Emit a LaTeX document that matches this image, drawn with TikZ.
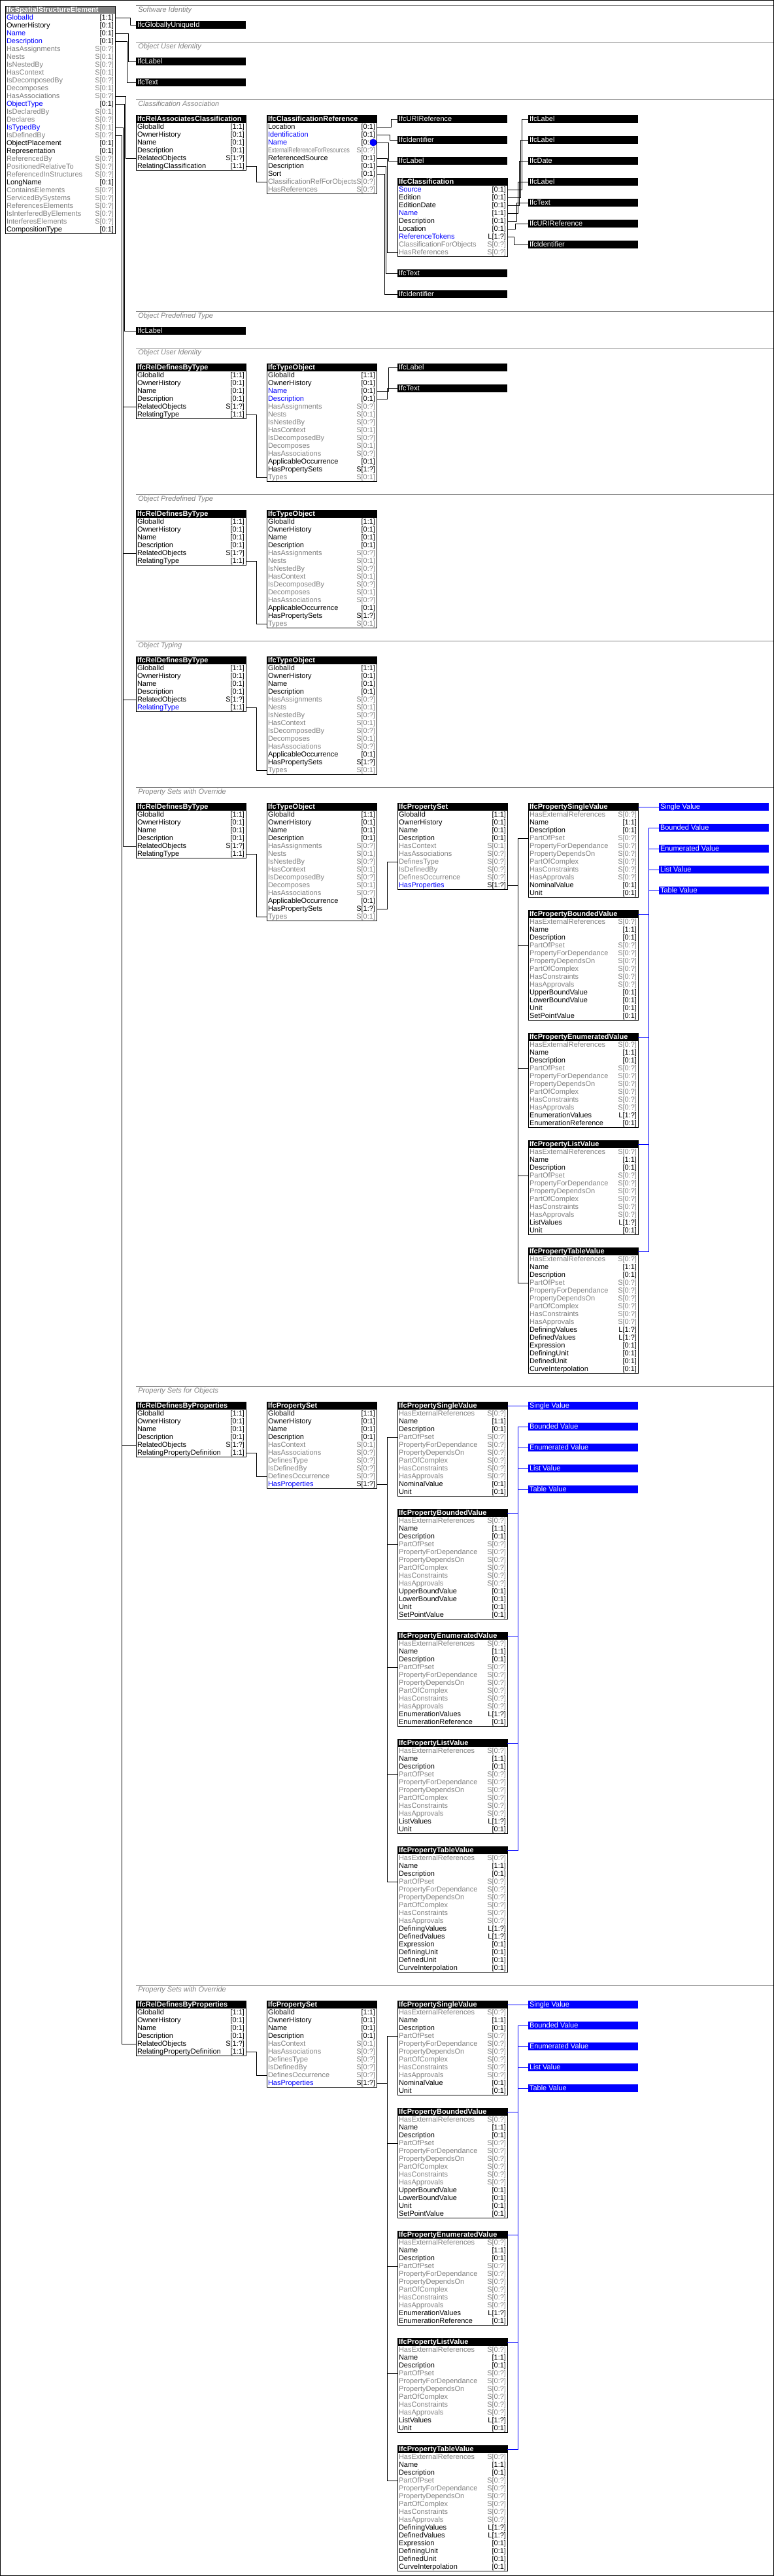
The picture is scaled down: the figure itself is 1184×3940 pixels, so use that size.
\documentclass[tikz,border=0pt]{standalone}
\usepackage{fontspec}
\setmainfont{Liberation Sans}
\usetikzlibrary{positioning}

\definecolor{nmn}{RGB}{0,0,0}
\definecolor{nmb}{RGB}{0,0,255}
\definecolor{nmt}{RGB}{0,0,255}
\definecolor{nmg}{RGB}{128,128,128}
\definecolor{cdn}{RGB}{0,0,0}
\definecolor{cdb}{RGB}{0,0,0}
\definecolor{cdt}{RGB}{128,128,128}
\definecolor{cdg}{RGB}{128,128,128}
\definecolor{secgray}{RGB}{128,128,128}
\definecolor{hdgray}{RGB}{128,128,128}
\definecolor{vblue}{RGB}{0,0,255}

\tikzset{
	base/.style={inner ysep=0pt, inner xsep=1.5pt, outer sep=0pt, minimum height=9pt,
		text height=7pt, text depth=1.5pt, font=\fontsize{8.25}{9}\selectfont},
	hdr/.style={base, anchor=north west, fill=black, text=white, font=\fontsize{8.25}{9}\selectfont\bfseries},
	hdrgray/.style={hdr, fill=hdgray},
	attr/.style={base},
	card/.style={base, anchor=east},
	dtype/.style={base, anchor=north west, fill=black, text=white},
	vtype/.style={dtype, fill=vblue},
	conn/.style={line width=0.75pt},
	bconn/.style={conn, draw=vblue},
	box/.style={draw, line width=0.75pt},
	frame/.style={draw, line width=0.75pt},
	secline/.style={draw=secgray, line width=0.75pt},
	sectitle/.style={anchor=base west, inner sep=0pt, text=secgray, font=\fontsize{8.25}{9}\selectfont\itshape},
	dotb/.style={circle, fill=vblue, inner sep=0pt, minimum size=8.25pt}
}

\protected\def\squeezed#1{\scalebox{0.78}[1]{#1}}

\newcommand{\entity}[5][hdr]{%
	\node[#1] (#2) at (#3) {\makebox[123pt][l]{#4}};
	\edef\entrows{#5}%
	\foreach \an/\ac/\ak [count=\i, remember=\i as \lastrow (initially 0)] in \entrows {%
		\ifnum\lastrow=0 \def\prev{#2}\else \edef\prev{#2-\lastrow}\fi
		\node[attr, text=nm\ak, below=0pt of \prev] (#2-\i) {\makebox[123pt][l]{\an}};
		\node[card, text=cd\ak] (#2-\i-c) at (#2-\i.east) {\ac};
		\xdef\nrows{\i}%
	}
	\draw[box] (#2.north west) rectangle (#2-\nrows.south east);
}
\newcommand{\wire}[4][conn]{\draw[#1] (#2.east) -- ++(#3,0) |- (#4.west);}
\newcommand{\secthead}[3]{%
	\draw[secline] (208,#2) -- (1183,#2);
	\node[sectitle] (#1) at (211,#2+10.5) {#3};
}

\def\rdtrows#1{GlobalId/[1:1]/n, OwnerHistory/[0:1]/n, Name/[0:1]/n, Description/[0:1]/n,
	RelatedObjects/S[1:?]/n, RelatingType/[1:1]/#1}
\def\torows#1{GlobalId/[1:1]/n, OwnerHistory/[0:1]/n, Name/[0:1]/#1, Description/[0:1]/#1,
	HasAssignments/S[0:?]/g, Nests/S[0:1]/g, IsNestedBy/S[0:?]/g, HasContext/S[0:1]/g,
	IsDecomposedBy/S[0:?]/g, Decomposes/S[0:1]/g, HasAssociations/S[0:?]/g,
	ApplicableOccurrence/[0:1]/n, HasPropertySets/S[1:?]/n, Types/S[0:1]/g}
\def\psrows{GlobalId/[1:1]/n, OwnerHistory/[0:1]/n, Name/[0:1]/n, Description/[0:1]/n,
	HasContext/S[0:1]/g, HasAssociations/S[0:?]/g, DefinesType/S[0:?]/g, IsDefinedBy/S[0:?]/g,
	DefinesOccurrence/S[0:?]/g, HasProperties/S[1:?]/b}
\def\rdprows{GlobalId/[1:1]/n, OwnerHistory/[0:1]/n, Name/[0:1]/n, Description/[0:1]/n,
	RelatedObjects/S[1:?]/n, RelatingPropertyDefinition/[1:1]/n}
\def\pcommon{HasExternalReferences/S[0:?]/g, Name/[1:1]/n, Description/[0:1]/n,
	PartOfPset/S[0:?]/g, PropertyForDependance/S[0:?]/g, PropertyDependsOn/S[0:?]/g,
	PartOfComplex/S[0:?]/g, HasConstraints/S[0:?]/g, HasApprovals/S[0:?]/g}

\newcommand{\propgroup}[4]{%
	\entity{#1sv}{#2,#3}{IfcPropertySingleValue}{\pcommon, NominalValue/[0:1]/n, Unit/[0:1]/n}
	\entity{#1bv}{#2,#3+164}{IfcPropertyBoundedValue}{\pcommon, UpperBoundValue/[0:1]/n,
		LowerBoundValue/[0:1]/n, Unit/[0:1]/n, SetPointValue/[0:1]/n}
	\entity{#1ev}{#2,#3+352}{IfcPropertyEnumeratedValue}{\pcommon, EnumerationValues/L[1:?]/n,
		EnumerationReference/[0:1]/n}
	\entity{#1lv}{#2,#3+516}{IfcPropertyListValue}{\pcommon, ListValues/L[1:?]/n, Unit/[0:1]/n}
	\entity{#1tv}{#2,#3+680}{IfcPropertyTableValue}{\pcommon, DefiningValues/L[1:?]/n,
		DefinedValues/L[1:?]/n, Expression/[0:1]/n, DefiningUnit/[0:1]/n, DefinedUnit/[0:1]/n,
		CurveInterpolation/[0:1]/n}
	\node[vtype] (#1bsv) at (#2+200,#3) {\makebox[123pt][l]{Single Value}};
	\node[vtype] (#1bbv) at (#2+200,#3+32) {\makebox[123pt][l]{Bounded Value}};
	\node[vtype] (#1bev) at (#2+200,#3+64) {\makebox[123pt][l]{Enumerated Value}};
	\node[vtype] (#1blv) at (#2+200,#3+96) {\makebox[123pt][l]{List Value}};
	\node[vtype] (#1btv) at (#2+200,#3+128) {\makebox[123pt][l]{Table Value}};
	\foreach \v in {sv,bv,ev,lv,tv} {\wire{#4}{16}{#1\v-4}}
	\draw[bconn] (#1sv.east) -- (#1bsv.west);
	\foreach \v in {bv,ev,lv,tv} {\wire[bconn]{#1\v}{16}{#1b\v}}
}

\begin{document}
\begin{tikzpicture}[x=0.75pt, y=-0.75pt]
	\useasboundingbox (0,0) rectangle (1184,3940);
	\draw[frame] (0.5,0.5) rectangle (1183.5,3939.5);

	\secthead{st1}{8}{Software Identity}
	\secthead{st2}{64}{Object User Identity}
	\secthead{st3}{152}{Classification Association}
	\secthead{st4}{476}{Object Predefined Type}
	\secthead{st5}{532}{Object User Identity}
	\secthead{st6}{756}{Object Predefined Type}
	\secthead{st7}{980}{Object Typing}
	\secthead{st8}{1204}{Property Sets with Override}
	\secthead{st9}{2120}{Property Sets for Objects}
	\secthead{st10}{3036}{Property Sets with Override}

	\entity[hdrgray]{sse}{8,9}{IfcSpatialStructureElement}{GlobalId/[1:1]/b, OwnerHistory/[0:1]/n,
		Name/[0:1]/b, Description/[0:1]/b, HasAssignments/S[0:?]/g, Nests/S[0:1]/g,
		IsNestedBy/S[0:?]/g, HasContext/S[0:1]/g, IsDecomposedBy/S[0:?]/g, Decomposes/S[0:1]/g,
		HasAssociations/S[0:?]/g, ObjectType/[0:1]/b, IsDeclaredBy/S[0:1]/g, Declares/S[0:?]/g,
		IsTypedBy/S[0:1]/t, IsDefinedBy/S[0:?]/g, ObjectPlacement/[0:1]/n, Representation/[0:1]/n,
		ReferencedBy/S[0:?]/g, PositionedRelativeTo/S[0:?]/g, ReferencedInStructures/S[0:?]/g,
		LongName/[0:1]/n, ContainsElements/S[0:?]/g, ServicedBySystems/S[0:?]/g,
		ReferencesElements/S[0:?]/g, IsInterferedByElements/S[0:?]/g, InterferesElements/S[0:?]/g,
		CompositionType/[0:1]/n}

	\node[dtype] (guid) at (208,32) {\makebox[123pt][l]{IfcGloballyUniqueId}};
	\node[dtype] (olabel) at (208,88) {\makebox[123pt][l]{IfcLabel}};
	\node[dtype] (otext) at (208,120) {\makebox[123pt][l]{IfcText}};

	\entity{rac}{208,176}{IfcRelAssociatesClassification}{GlobalId/[1:1]/n, OwnerHistory/[0:1]/n,
		Name/[0:1]/n, Description/[0:1]/n, RelatedObjects/S[1:?]/n, RelatingClassification/[1:1]/n}
	\entity{cref}{408,176}{IfcClassificationReference}{Location/[0:1]/n, Identification/[0:1]/b,
		Name/[0:1]/b, \squeezed{ExternalReferenceForResources}/S[0:?]/g, ReferencedSource/[0:1]/n,
		Description/[0:1]/n, Sort/[0:1]/n, ClassificationRefForObjects/S[0:?]/g, HasReferences/S[0:?]/g}
	\node[dotb] (cdot) at ([xshift=-3.75pt]cref-3.east) {};
	\node[dtype] (curi) at (608,176) {\makebox[123pt][l]{IfcURIReference}};
	\node[dtype] (cid) at (608,208) {\makebox[123pt][l]{IfcIdentifier}};
	\node[dtype] (clabel) at (608,240) {\makebox[123pt][l]{IfcLabel}};
	\entity{cls}{608,272}{IfcClassification}{Source/[0:1]/b, Edition/[0:1]/n, EditionDate/[0:1]/n,
		Name/[1:1]/b, Description/[0:1]/n, Location/[0:1]/n, ReferenceTokens/L[1:?]/b,
		ClassificationForObjects/S[0:?]/g, HasReferences/S[0:?]/g}
	\node[dtype] (ctext) at (608,412) {\makebox[123pt][l]{IfcText}};
	\node[dtype] (csort) at (608,444) {\makebox[123pt][l]{IfcIdentifier}};
	\node[dtype] (srclabel) at (808,176) {\makebox[123pt][l]{IfcLabel}};
	\node[dtype] (edlabel) at (808,208) {\makebox[123pt][l]{IfcLabel}};
	\node[dtype] (eddate) at (808,240) {\makebox[123pt][l]{IfcDate}};
	\node[dtype] (nmlabel) at (808,272) {\makebox[123pt][l]{IfcLabel}};
	\node[dtype] (dstext) at (808,304) {\makebox[123pt][l]{IfcText}};
	\node[dtype] (locuri) at (808,336) {\makebox[123pt][l]{IfcURIReference}};
	\node[dtype] (tokid) at (808,368) {\makebox[123pt][l]{IfcIdentifier}};

	\node[dtype] (ptlabel) at (208,500) {\makebox[123pt][l]{IfcLabel}};

	\entity{rdt1}{208,556}{IfcRelDefinesByType}{\rdtrows{n}}
	\entity{to1}{408,556}{IfcTypeObject}{\torows{b}}
	\node[dtype] (tlabel) at (608,556) {\makebox[123pt][l]{IfcLabel}};
	\node[dtype] (ttext) at (608,588) {\makebox[123pt][l]{IfcText}};
	\entity{rdt2}{208,780}{IfcRelDefinesByType}{\rdtrows{n}}
	\entity{to2}{408,780}{IfcTypeObject}{\torows{n}}
	\entity{rdt3}{208,1004}{IfcRelDefinesByType}{\rdtrows{b}}
	\entity{to3}{408,1004}{IfcTypeObject}{\torows{n}}
	\entity{rdt4}{208,1228}{IfcRelDefinesByType}{\rdtrows{n}}
	\entity{to4}{408,1228}{IfcTypeObject}{\torows{n}}
	\entity{ps1}{608,1228}{IfcPropertySet}{\psrows}
	\propgroup{pa}{808}{1228}{ps1-10}

	\entity{rdp1}{208,2144}{IfcRelDefinesByProperties}{\rdprows}
	\entity{ps2}{408,2144}{IfcPropertySet}{\psrows}
	\propgroup{pb}{608}{2144}{ps2-10}

	\entity{rdp2}{208,3060}{IfcRelDefinesByProperties}{\rdprows}
	\entity{ps3}{408,3060}{IfcPropertySet}{\psrows}
	\propgroup{pc}{608}{3060}{ps3-10}

	\wire{sse-1}{23}{guid}
	\wire{sse-3}{20}{olabel}
	\wire{sse-4}{18}{otext}
	\wire{sse-11}{16}{rac-5}
	\wire{sse-12}{14}{ptlabel}
	\foreach \r in {rdt1,rdt2,rdt3,rdt4} {\wire{sse-15}{12}{\r-5}}
	\foreach \r in {rdp1,rdp2} {\wire{sse-16}{10}{\r-5}}

	\wire{rac-6}{16}{cref-8}
	\wire{cref-1}{22}{curi}
	\wire{cref-2}{20}{cid}
	\wire{cref-3}{18}{clabel}
	\wire{cref-5}{16}{cls-9}
	\wire{cref-6}{14}{ctext}
	\wire{cref-7}{12}{csort}
	\wire{cls-1}{22}{srclabel}
	\wire{cls-2}{20}{edlabel}
	\wire{cls-3}{18}{eddate}
	\wire{cls-4}{16}{nmlabel}
	\wire{cls-5}{14}{dstext}
	\wire{cls-6}{12}{locuri}
	\wire{cls-7}{10}{tokid}

	\wire{rdt1-6}{16}{to1-14}
	\wire{to1-3}{18}{tlabel}
	\wire{to1-4}{16}{ttext}
	\wire{rdt2-6}{16}{to2-14}
	\wire{rdt3-6}{16}{to3-14}
	\wire{rdt4-6}{16}{to4-14}
	\wire{to4-13}{16}{ps1-7}
	\wire{rdp1-6}{16}{ps2-9}
	\wire{rdp2-6}{16}{ps3-9}
\end{tikzpicture}
\end{document}
